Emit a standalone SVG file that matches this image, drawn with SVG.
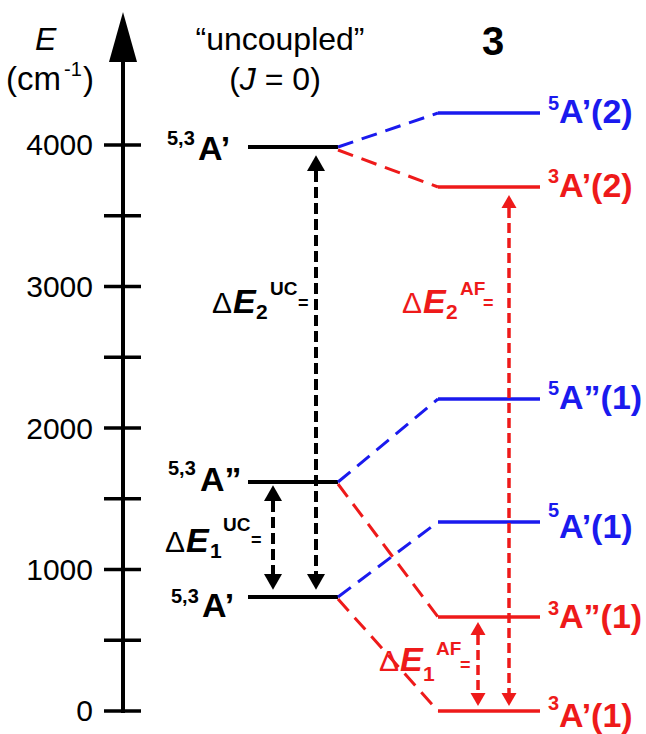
<svg xmlns="http://www.w3.org/2000/svg" width="646" height="734" viewBox="0 0 646 734">
<style>
text{font-family:"Liberation Sans",Arial,sans-serif;}
.tick{font-size:30px;text-anchor:end;fill:#000}
.b{font-weight:bold}
.blk{fill:#000}
.blue{fill:#1a1aee}
.red{fill:#ee1a1a}
.lvk{stroke:#000;stroke-width:4}
.lvb{stroke:#1a1aee;stroke-width:3.5}
.lvr{stroke:#ee1a1a;stroke-width:3.5}
.cb{stroke:#1a1aee;stroke-width:3;stroke-dasharray:16 9;fill:none}
.cr{stroke:#ee1a1a;stroke-width:3;stroke-dasharray:16 9;fill:none}
.ak{stroke:#000;stroke-width:4;stroke-dasharray:11 5;marker-start:url(#hk);marker-end:url(#hk)}
.ar{stroke:#ee1a1a;stroke-width:3.5;stroke-dasharray:10 5;marker-start:url(#hr);marker-end:url(#hr)}
.d{font-size:30px}
.e{font-size:34px;font-weight:bold;font-style:italic}
.s{font-size:21px;font-weight:bold}
.u{font-size:19px;font-weight:bold}
.q{font-size:18px;font-weight:bold}
</style>
<defs>
<marker id="hk" markerUnits="userSpaceOnUse" orient="auto-start-reverse" markerWidth="16" markerHeight="18" refX="0" refY="8" viewBox="0 0 14 16" overflow="visible">
<path d="M0,0 L14,8 L0,16 z" fill="#000"/>
</marker>
<marker id="hr" markerUnits="userSpaceOnUse" orient="auto-start-reverse" markerWidth="13" markerHeight="15" refX="0" refY="7.5" viewBox="0 0 13 15" overflow="visible">
<path d="M0,0 L13,7.5 L0,15 z" fill="#ee1a1a"/>
</marker>
</defs>
<rect width="646" height="734" fill="#fff"/>

<g id="axis">
<line x1="123" y1="60" x2="123" y2="713" stroke="#000" stroke-width="4"/>
<polygon points="123,12 109,62 137,62" fill="#000"/>
<g stroke="#000" stroke-width="3.5">
<line x1="104" y1="145" x2="141" y2="145"/>
<line x1="104" y1="215.75" x2="141" y2="215.75"/>
<line x1="104" y1="286.5" x2="141" y2="286.5"/>
<line x1="104" y1="357.25" x2="141" y2="357.25"/>
<line x1="104" y1="428" x2="141" y2="428"/>
<line x1="104" y1="498.75" x2="141" y2="498.75"/>
<line x1="104" y1="569.5" x2="141" y2="569.5"/>
<line x1="104" y1="640.25" x2="141" y2="640.25"/>
<line x1="104" y1="711" x2="141" y2="711"/>
</g>
<text class="tick" x="93" y="155">4000</text>
<text class="tick" x="93" y="297">3000</text>
<text class="tick" x="93" y="439">2000</text>
<text class="tick" x="93" y="580">1000</text>
<text class="tick" x="93" y="721">0</text>
<text x="35" y="50" font-size="32" font-style="italic">E</text>
<text x="6" y="90" font-size="33">(cm<tspan x="64" y="76" font-size="20">-1</tspan><tspan x="83" y="90">)</tspan></text>
</g>

<g id="headers">
<text x="280" y="50" font-size="32" text-anchor="middle">“uncoupled”</text>
<text x="275" y="90" font-size="32" text-anchor="middle">(<tspan font-style="italic">J</tspan> = 0)</text>
<text x="493" y="55" font-size="40" font-weight="bold" text-anchor="middle">3</text>
</g>

<g id="uc-A1-high">
<line class="lvk" x1="248" y1="147" x2="338" y2="147"/>
<text class="b blk"><tspan x="167" y="145" font-size="20">5,3</tspan><tspan x="198" y="160" font-size="34">A’</tspan></text>
</g>
<g id="uc-A2">
<line class="lvk" x1="248" y1="482" x2="338" y2="482"/>
<text class="b blk"><tspan x="168" y="475" font-size="20">5,3</tspan><tspan x="200" y="491" font-size="34">A”</tspan></text>
</g>
<g id="uc-A1-low">
<line class="lvk" x1="248" y1="597" x2="338" y2="597"/>
<text class="b blk"><tspan x="171" y="603" font-size="20">5,3</tspan><tspan x="202" y="617" font-size="34">A’</tspan></text>
</g>

<g id="q5A1-2">
<line class="lvb" x1="438" y1="113" x2="540" y2="113"/>
<text class="b blue"><tspan x="548" y="110" font-size="20">5</tspan><tspan x="559" y="123" font-size="34">A’(2)</tspan></text>
</g>
<g id="t3A1-2">
<line class="lvr" x1="438" y1="187" x2="540" y2="187"/>
<text class="b red"><tspan x="548" y="183" font-size="20">3</tspan><tspan x="559" y="197" font-size="34">A’(2)</tspan></text>
</g>
<g id="q5A2-1">
<line class="lvb" x1="438" y1="399" x2="540" y2="399"/>
<text class="b blue"><tspan x="548" y="395" font-size="20">5</tspan><tspan x="559" y="409" font-size="34">A”(1)</tspan></text>
</g>
<g id="q5A1-1">
<line class="lvb" x1="438" y1="522" x2="540" y2="522"/>
<text class="b blue"><tspan x="548" y="517" font-size="20">5</tspan><tspan x="559" y="538" font-size="34">A’(1)</tspan></text>
</g>
<g id="t3A2-1">
<line class="lvr" x1="438" y1="617" x2="540" y2="617"/>
<text class="b red"><tspan x="548" y="615" font-size="20">3</tspan><tspan x="559" y="628" font-size="34">A”(1)</tspan></text>
</g>
<g id="t3A1-1">
<line class="lvr" x1="438" y1="711" x2="540" y2="711"/>
<text class="b red"><tspan x="548" y="710" font-size="20">3</tspan><tspan x="559" y="727" font-size="34">A’(1)</tspan></text>
</g>

<g id="connectors">
<line class="cb" x1="338" y1="147" x2="438" y2="113"/>
<line class="cr" x1="338" y1="150" x2="438" y2="187"/>
<line class="cb" x1="338" y1="482" x2="438" y2="399"/>
<line class="cr" x1="338" y1="484" x2="438" y2="617"/>
<line class="cb" x1="338" y1="597" x2="438" y2="522"/>
<line class="cr" x1="338" y1="599" x2="438" y2="711"/>
<line class="ak" x1="316" y1="171" x2="316" y2="574"/>
<line class="ak" x1="273" y1="501" x2="273" y2="574"/>
<line class="ar" x1="509" y1="208" x2="509" y2="693"/>
<line class="ar" x1="478" y1="635" x2="478" y2="693"/>
</g>

<g id="label-dE2UC" class="blk">
<text><tspan class="d" x="212" y="313">Δ</tspan><tspan class="e" x="233" y="313">E</tspan><tspan class="s" x="256" y="319">2</tspan><tspan class="u" x="270" y="295">UC</tspan><tspan class="q" x="298" y="309">=</tspan></text>
</g>
<g id="label-dE1UC" class="blk">
<text><tspan class="d" x="165" y="552">Δ</tspan><tspan class="e" x="186" y="552">E</tspan><tspan class="s" x="210" y="558">1</tspan><tspan class="u" x="223" y="531">UC</tspan><tspan class="q" x="251" y="546">=</tspan></text>
</g>
<g id="label-dE2AF" class="red">
<text><tspan class="d" x="402" y="313">Δ</tspan><tspan class="e" x="423" y="313">E</tspan><tspan class="s" x="446" y="319">2</tspan><tspan class="u" x="460" y="295">AF</tspan><tspan class="q" x="483" y="309">=</tspan></text>
</g>
<g id="label-dE1AF" class="red">
<text><tspan class="d" x="379" y="671">Δ</tspan><tspan class="e" x="400" y="671">E</tspan><tspan class="s" x="423" y="681">1</tspan><tspan class="u" x="436" y="655">AF</tspan><tspan class="q" x="460" y="671">=</tspan></text>
</g>
</svg>
